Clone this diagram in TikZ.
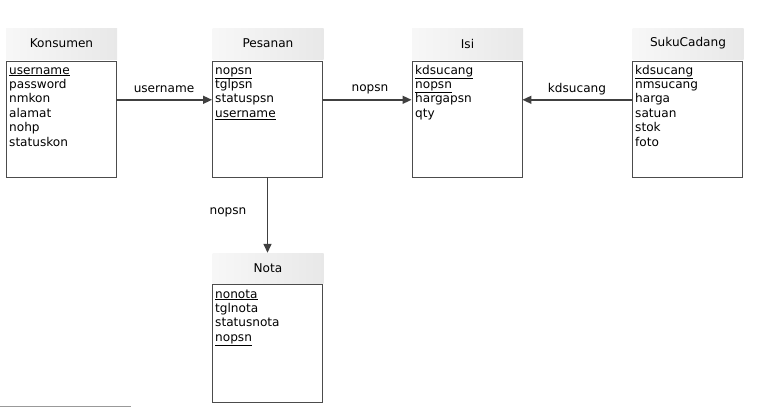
\documentclass[tikz,border=0pt]{standalone}
\usepackage{fontspec}
\setmainfont{DejaVu Sans}
\usetikzlibrary{arrows.meta}

\tikzset{
  header/.style={left color=black!3, right color=black!9, minimum width=111pt, minimum height=31pt, inner sep=0pt, font=\fontsize{12.1}{14}\selectfont},
  body/.style={draw=black!70, line width=0.9pt, minimum width=110pt, inner sep=0pt},
  attr/.style={anchor=west, inner sep=0pt, text height=9pt, text depth=3pt, font=\fontsize{12.1}{14}\selectfont},
  link/.style={draw=black!75, line width=1.4pt, -{Triangle[length=9pt,width=8pt]}},
  lbl/.style={font=\fontsize{12.1}{14}\selectfont, inner sep=0pt}
}

\begin{document}
\begin{tikzpicture}[x=1pt,y=-1pt]
  \useasboundingbox (0,0) rectangle (768,407);

  %%%%% ENTITIES %%%%%
  \node[header] (kons) at (61.5,43.5) {Konsumen};
  \node[body, minimum height=116pt] (konsbody) at (61,119) {};
  \foreach \a [count=\i] in {\underline{username},password,nmkon,alamat,nohp,statuskon}
    \node[attr] (kons-\i) at (9,{56.6+14.4*\i}) {\a};

  \node[header] (psn) at (268,43.5) {Pesanan};
  \node[body, minimum height=116pt] (psnbody) at (267.5,119) {};
  \foreach \a [count=\i] in {\underline{nopsn},tglpsn,statuspsn,\underline{username}}
    \node[attr] (psn-\i) at (215,{56.6+14.4*\i}) {\a};

  \node[header] (isi) at (467.5,43.5) {Isi};
  \node[body, minimum height=116pt] (isibody) at (467,119) {};
  \foreach \a [count=\i] in {\underline{kdsucang},\underline{nopsn},hargapsn,qty}
    \node[attr] (isi-\i) at (415,{56.6+14.4*\i}) {\a};

  \node[header] (suku) at (688,43.5) {SukuCadang};
  \node[body, minimum height=116pt] (sukubody) at (687,119) {};
  \foreach \a [count=\i] in {\underline{kdsucang},nmsucang,harga,satuan,stok,foto}
    \node[attr] (suku-\i) at (635,{56.6+14.4*\i}) {\a};

  \node[header, minimum height=30pt] (nota) at (268,268) {Nota};
  \node[body, minimum height=118pt] (notabody) at (267,343) {};
  \foreach \a [count=\i] in {\underline{nonota},tglnota,statusnota,\underline{nopsn}}
    \node[attr] (nota-\i) at (215,{280.6+14.4*\i}) {\a};

  %%%%% RELATIONS %%%%%
  \draw[link] (konsbody.east |- psn-3) -- (psnbody.west |- psn-3);
  \node[lbl] (l-user) at (164,89.5) {username};

  \draw[link] (psnbody.east |- isi-3) -- (isibody.west |- isi-3);
  \node[lbl] (l-psn) at (370,89.5) {nopsn};

  \draw[link] (sukubody.west |- isi-3) -- (isibody.east |- isi-3);
  \node[lbl] (l-suku) at (577,89.5) {kdsucang};

  \draw[link] (psnbody.south) -- (psnbody.south |- nota.north);
  \node[lbl] (l-nota) at (228,212) {nopsn};

  \draw[black!40, line width=1pt] (0,406) -- (131,406);
\end{tikzpicture}
\end{document}
